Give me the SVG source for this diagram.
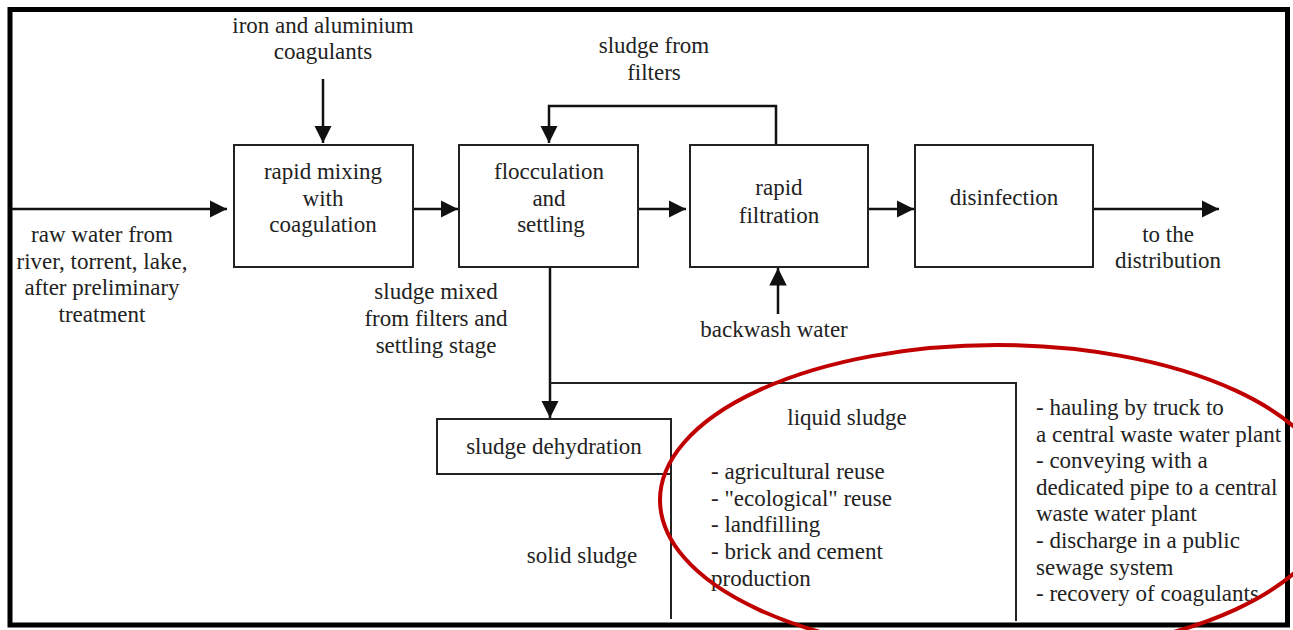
<svg xmlns="http://www.w3.org/2000/svg" width="1293" height="630" viewBox="0 0 1293 630">
<style>
text{font-family:"Liberation Serif","Times New Roman",serif;font-size:23px;fill:#222}
.c{text-anchor:middle}
.box{fill:#fff;stroke:#222;stroke-width:2}
.ln{fill:none;stroke:#111;stroke-width:2.5}
.thin{fill:none;stroke:#222;stroke-width:2}
</style>
<defs>
<marker id="ah" viewBox="0 0 10 10" refX="10" refY="5" markerWidth="7" markerHeight="7" orient="auto" markerUnits="strokeWidth">
<path d="M0,0 L10,5 L0,10 z" fill="#111"/>
</marker>
</defs>
<rect x="0" y="0" width="1293" height="630" fill="#fff"/>
<rect x="10" y="9.5" width="1277.5" height="615.5" fill="none" stroke="#000" stroke-width="5"/>

<g id="connectors">
<line class="ln" x1="12" y1="209" x2="227" y2="209" marker-end="url(#ah)"/>
<line class="ln" x1="323" y1="79" x2="323" y2="143" marker-end="url(#ah)"/>
<line class="ln" x1="413" y1="209" x2="458" y2="209" marker-end="url(#ah)"/>
<line class="ln" x1="638" y1="209" x2="686" y2="209" marker-end="url(#ah)"/>
<line class="ln" x1="868" y1="209" x2="914" y2="209" marker-end="url(#ah)"/>
<line class="ln" x1="1093" y1="209" x2="1219" y2="209" marker-end="url(#ah)"/>
<polyline class="ln" points="776,145 776,106 549,106 549,143" marker-end="url(#ah)"/>
<line class="ln" x1="778" y1="314" x2="778" y2="268" marker-end="url(#ah)"/>
<line class="ln" x1="550" y1="267" x2="550" y2="418" marker-end="url(#ah)"/>
<polyline class="thin" points="550,383 1016,383 1016,621"/>
<line class="thin" x1="671" y1="474" x2="671" y2="619"/>
</g>

<g id="node-mixing">
<rect class="box" x="234" y="145" width="179" height="122"/>
<text class="c" x="323" y="179">rapid mixing</text>
<text class="c" x="323" y="206">with</text>
<text class="c" x="323" y="232">coagulation</text>
</g>
<g id="node-flocculation">
<rect class="box" x="459" y="145" width="179" height="122"/>
<text class="c" x="549" y="179">flocculation</text>
<text class="c" x="549" y="206">and</text>
<text class="c" x="551" y="232">settling</text>
</g>
<g id="node-filtration">
<rect class="box" x="690" y="145" width="178" height="122"/>
<text class="c" x="779" y="195">rapid</text>
<text class="c" x="779" y="223">filtration</text>
</g>
<g id="node-disinfection">
<rect class="box" x="915" y="145" width="178" height="122"/>
<text class="c" x="1004" y="205">disinfection</text>
</g>
<g id="node-dehydration">
<rect class="box" x="437" y="419" width="234" height="55"/>
<text class="c" x="554" y="454">sludge dehydration</text>
</g>

<g id="labels">
<text class="c" x="323" y="33">iron and aluminium</text>
<text class="c" x="323" y="59">coagulants</text>
<text class="c" x="102" y="242">raw water from</text>
<text class="c" x="102" y="269">river, torrent, lake,</text>
<text class="c" x="102" y="295">after preliminary</text>
<text class="c" x="102" y="322">treatment</text>
<text class="c" x="654" y="53">sludge from</text>
<text class="c" x="654" y="80">filters</text>
<text class="c" x="1168" y="242">to the</text>
<text class="c" x="1168" y="268">distribution</text>
<text class="c" x="436" y="299">sludge mixed</text>
<text class="c" x="436" y="326">from filters and</text>
<text class="c" x="436" y="353">settling stage</text>
<text class="c" x="774" y="337">backwash water</text>
<text class="c" x="582" y="563">solid sludge</text>
<text class="c" x="847" y="425">liquid sludge</text>
<text x="711" y="479">- agricultural reuse</text>
<text x="711" y="506">- "ecological" reuse</text>
<text x="711" y="532">- landfilling</text>
<text x="711" y="559">- brick and cement</text>
<text x="711" y="586">production</text>
<text x="1036" y="415">- hauling by truck to</text>
<text x="1036" y="442">a central waste water plant</text>
<text x="1036" y="468">- conveying with a</text>
<text x="1036" y="495">dedicated pipe to a central</text>
<text x="1036" y="521">waste water plant</text>
<text x="1036" y="548">- discharge in a public</text>
<text x="1036" y="575">sewage system</text>
<text x="1036" y="601">- recovery of coagulants</text>
</g>

<ellipse cx="997" cy="500" rx="337" ry="155" fill="none" stroke="#c00000" stroke-width="4"/>
</svg>
